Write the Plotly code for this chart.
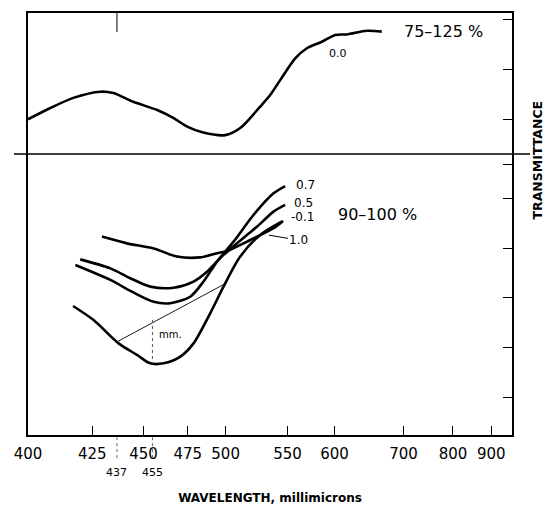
import numpy as np
import plotly.graph_objects as go

# ---- wavelength scale of the instrument (non-linear): tick wavelengths and their relative positions
TICK_WL = [400, 425, 450, 475, 500, 550, 600, 700, 800, 900]
TICK_LABELS = ["400", "425", "450", "475", "500", "550", "600", "700", "800", "900"]
TICK_POS = [0, 64.4, 115.7, 159.9, 197.8, 259.7, 306.8, 375.8, 425.3, 463.6]
X_END = 484.4
EXTRA_WL = [437, 455]          # marked wavelengths
EXTRA_LABELS = ["437", "455"]

# ---- upper panel (75-125 %), curve "0.0"
TOP_WL = [400, 408.7, 417.6, 428.9, 435.2, 445, 457.7, 466.8, 474.7, 485.2, 499.7,
          511.8, 527.9, 536, 544.1, 558.2, 570.6, 586.5, 600.9, 617.8, 646.8, 668.5]
TOP_T = [87.3, 91.3, 94.9, 97.1, 96.6, 93.5, 90.6, 87.8, 84.7, 82.6, 81.7,
         84.2, 91.8, 95.9, 101.2, 108.9, 112.5, 114.8, 117.2, 117.4, 118.7, 118.4]

# ---- lower panel (90-100 %)
C07_WL = [418.4, 433.8, 444.3, 455.7, 465.1, 476.6, 485.4, 494.3, 506.4, 522.5, 538.7, 548.1]
C07_T = [96.05, 95.52, 95.10, 94.74, 94.69, 94.92, 95.46, 96.17, 96.88, 97.83, 98.60, 98.86]

C05_WL = [420.3, 433.8, 443.5, 453.8, 467.0, 478.8, 487.7, 498.6, 517.2, 525.3, 538.7, 548.1]
C05_T = [96.25, 95.93, 95.58, 95.28, 95.24, 95.46, 95.81, 96.41, 97.12, 97.41, 97.95, 98.19]

C01_WL = [429.7, 441.9, 455.7, 468.9, 483.2, 494.3, 501.1, 519.9, 538.7, 546.5]
C01_T = [97.06, 96.82, 96.64, 96.35, 96.32, 96.47, 96.55, 96.94, 97.36, 97.62]

C10_WL = [417.5, 425.6, 437.8, 446.8, 453.8, 461.3, 470.8, 478.8, 489.8, 498.6, 511.8, 527.9, 545.7]
C10_T = [94.59, 94.09, 93.26, 92.85, 92.55, 92.55, 92.79, 93.26, 94.33, 95.28, 96.35, 97.12, 97.60]

BASE_WL = [437, 500]           # tangent baseline drawn on curve 1.0
TOP_TICKS = [87.4, 105.0, 122.6]
BOTTOM_TICKS = [91.35, 93.12, 94.88, 96.62, 98.40, 99.61]


def P(wl):
    return np.interp(wl, TICK_WL, TICK_POS)


FONT = "DejaVu Sans"
LW = 2.6
split = 1 - 141 / 422

fig = go.Figure()

fig.add_trace(go.Scatter(x=P(TOP_WL), y=TOP_T, xaxis="x2", yaxis="y2", mode="lines",
                         line=dict(color="black", width=LW, shape="spline", smoothing=0.8),
                         name="0.0", hoverinfo="skip"))

for name, wl, t in [("0.7", C07_WL, C07_T), ("0.5", C05_WL, C05_T),
                    ("-0.1", C01_WL, C01_T), ("1.0", C10_WL, C10_T)]:
    fig.add_trace(go.Scatter(x=P(wl), y=t, mode="lines",
                             line=dict(color="black", width=LW, shape="spline", smoothing=0.8),
                             name=name, hoverinfo="skip"))

# tangent baseline and the measuring line at 455
base_t = np.interp(BASE_WL, C10_WL, C10_T)
fig.add_trace(go.Scatter(x=P(BASE_WL), y=base_t, mode="lines",
                         line=dict(color="black", width=0.9), hoverinfo="skip", showlegend=False))
frac = (P(455) - P(BASE_WL[0])) / (P(BASE_WL[1]) - P(BASE_WL[0]))
base_455 = base_t[0] + frac * (base_t[1] - base_t[0])
min_455 = np.interp(455, C10_WL, C10_T)
fig.add_trace(go.Scatter(x=[P(455), P(455)], y=[base_455 + 0.1, min_455], mode="lines",
                         line=dict(color="#555", width=1, dash="dot"), hoverinfo="skip",
                         showlegend=False))

ax_common = dict(showgrid=False, zeroline=False, linecolor="black", linewidth=1.5,
                 automargin=False)

# the page body adds an 8px margin, so the figure is 8px smaller than the window
fig.update_layout(
    width=547, height=497,
    margin=dict(l=20, r=43, t=5, b=70, autoexpand=False),
    paper_bgcolor="white", plot_bgcolor="white",
    showlegend=False,
    font=dict(family=FONT, color="black"),
    xaxis=dict(domain=[0, 1], range=[0, X_END], anchor="y", showline=True,
               ticks="inside", ticklen=9, tickwidth=1.2, tickcolor="black",
               tickvals=P(TICK_WL), ticktext=TICK_LABELS,
               tickfont=dict(size=15, family=FONT), ticklabelstandoff=4,
               title=dict(text="<b>WAVELENGTH, millimicrons</b>", font=dict(size=12), standoff=34),
               **ax_common),
    xaxis2=dict(domain=[0, 1], range=[0, X_END], anchor="y2", matches="x", side="top",
                showline=True, ticks="", showticklabels=False, **ax_common),
    yaxis=dict(domain=[0, split], range=[90, 100], anchor="x", side="right", showline=True,
               mirror=True, ticks="inside", ticklen=9, tickwidth=1.2, tickcolor="black",
               tickvals=BOTTOM_TICKS, showticklabels=False, **ax_common),
    yaxis2=dict(domain=[split, 1], range=[75, 125], anchor="x2", side="right", showline=True,
                mirror=True, ticks="inside", ticklen=9, tickwidth=1.2, tickcolor="black",
                tickvals=TOP_TICKS, showticklabels=False, **ax_common),
)

# separator line between panels (extends beyond the frame)
fig.add_shape(type="line", xref="paper", yref="paper", x0=-14 / 484, x1=502 / 484,
              y0=split, y1=split, line=dict(color="black", width=1.6))

# marks at 437 and 455 below the axis, tick at 437 on the top edge
for wl in EXTRA_WL:
    fig.add_shape(type="line", xref="x", yref="paper", x0=P(wl), x1=P(wl), y0=-0.005, y1=-0.06,
                  line=dict(color="#666", width=1, dash="dot"))
fig.add_shape(type="line", xref="x2", yref="paper", x0=P(437), x1=P(437), y0=1, y1=0.955,
              line=dict(color="black", width=1))

for wl, lab in zip(EXTRA_WL, EXTRA_LABELS):
    fig.add_annotation(x=P(wl), xref="x", y=-37 / 422, yref="paper", text=lab, showarrow=False,
                       font=dict(size=11), xanchor="center", yanchor="middle")

# panel texts
fig.add_annotation(x=P(780), y=118.3, xref="x2", yref="y2", text="75\u2013125 %", showarrow=False,
                   font=dict(size=16))
fig.add_annotation(x=P(605), y=110.8, xref="x2", yref="y2", text="0.0", showarrow=False,
                   font=dict(size=11))
fig.add_annotation(x=P(663), y=97.83, xref="x", yref="y", text="90\u2013100 %", showarrow=False,
                   font=dict(size=16))
fig.add_annotation(x=P(569), y=98.90, xref="x", yref="y", text="0.7", showarrow=False,
                   font=dict(size=12))
fig.add_annotation(x=P(567), y=98.26, xref="x", yref="y", text="0.5", showarrow=False,
                   font=dict(size=12))
fig.add_annotation(x=P(566), y=97.76, xref="x", yref="y", text="-0.1", showarrow=False,
                   font=dict(size=12))
fig.add_annotation(x=P(535), y=float(np.interp(535, C10_WL, C10_T)) - 0.2, xref="x", yref="y",
                   text="1.0", showarrow=True, arrowhead=0, arrowwidth=1, arrowcolor="black",
                   ax=30, ay=5, font=dict(size=12))
fig.add_annotation(x=P(465), y=93.56, xref="x", yref="y", text="mm.", showarrow=False,
                   font=dict(size=10))

fig.add_annotation(x=(546 - 28) / 484, y=(435 - 160) / 422, xref="paper", yref="paper",
                   text="<b>TRANSMITTANCE</b>", textangle=-90, showarrow=False,
                   font=dict(size=12.5))

fig.write_html("out.html")
